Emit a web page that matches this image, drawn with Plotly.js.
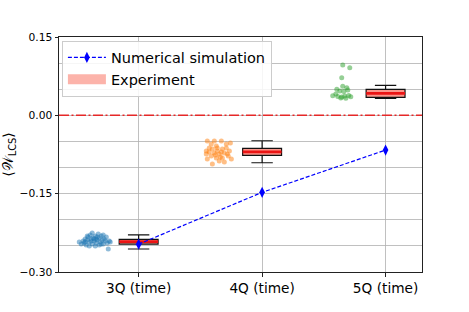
<!DOCTYPE html>
<html>
<head>
<meta charset="utf-8">
<script src="https://cdn.plot.ly/plotly-3.0.1.min.js"></script>
<style>html,body{margin:0;padding:0;background:#fff;}#chart{width:469px;height:312px;}</style>
</head>
<body>
<div id="chart"></div>
<script>
// Categories and tick labels
const categories = [0, 1, 2];
const tickLabels = ['3Q (time)', '4Q (time)', '5Q (time)'];

// Numerical simulation
const simValues = [-0.2467, -0.1475, -0.0665];

// Experiment box statistics
const boxQ1 = [-0.2466, -0.0766, 0.0345];
const boxMedian = [-0.2418, -0.0700, 0.0420];
const boxQ3 = [-0.2375, -0.0632, 0.0498];
const boxLow = [-0.2560, -0.0908, 0.0326];
const boxHigh = [-0.2290, -0.0487, 0.0575];

// Individual experimental runs (jittered)
const x3Q = [-0.481,-0.465,-0.449,-0.441,-0.433,-0.425,-0.416,-0.408,-0.400,-0.392,-0.384,-0.376,-0.368,-0.360,-0.351,-0.343,-0.335,-0.327,-0.319,-0.311,-0.303,-0.295,-0.287,-0.279,-0.270,-0.262,-0.254,-0.246,-0.238,-0.230,-0.376,-0.351,-0.416,-0.319,-0.287,-0.400,-0.335,-0.303,-0.433,-0.360,-0.384,-0.343];
const y3Q = [-0.2427,-0.2465,-0.2408,-0.2446,-0.2370,-0.2485,-0.2389,-0.2331,-0.2427,-0.2293,-0.2370,-0.2465,-0.2351,-0.2408,-0.2312,-0.2446,-0.2389,-0.2274,-0.2351,-0.2427,-0.2312,-0.2389,-0.2465,-0.2370,-0.2408,-0.2331,-0.2446,-0.2561,-0.2408,-0.2427,-0.2255,-0.2504,-0.2312,-0.2485,-0.2293,-0.2504,-0.2331,-0.2465,-0.2427,-0.2370,-0.2408,-0.2370];
const x4Q = [0.556,0.613,0.670,0.743,0.548,0.572,0.597,0.629,0.637,0.653,0.678,0.694,0.710,0.735,0.726,0.678,0.629,0.588,0.556,0.653,0.597,0.694,0.751,0.613,0.670,0.637,0.710,0.548,0.588,0.662,0.718,0.621,0.572];
const y4Q = [-0.0492,-0.0492,-0.0492,-0.0531,-0.0684,-0.0626,-0.0646,-0.0588,-0.0684,-0.0741,-0.0646,-0.0722,-0.0626,-0.0684,-0.0780,-0.0818,-0.0818,-0.0780,-0.0837,-0.0875,-0.0933,-0.0895,-0.0837,-0.0722,-0.0703,-0.0626,-0.0550,-0.0741,-0.0550,-0.0799,-0.0741,-0.0761,-0.0703];
const x5Q = [1.653,1.710,1.645,1.653,1.686,1.605,1.629,1.662,1.694,1.572,1.613,1.645,1.670,1.702,1.718,1.597,1.678,1.637];
const y5Q = [0.0964,0.0912,0.0720,0.0556,0.0529,0.0498,0.0466,0.0456,0.0485,0.0376,0.0360,0.0350,0.0370,0.0380,0.0356,0.0410,0.0326,0.0330];

const zeroLevel = 0;
const boxWidth = 0.315;

const FONT = 'DejaVu Sans, sans-serif';

function runTrace(x, y, color) {
  return {type: 'scatter', mode: 'markers', x: x, y: y, showlegend: false, hoverinfo: 'skip',
    marker: {color: color, size: 5, opacity: 0.5, line: {width: 0}}};
}

// median segments built from the box statistics
const medX = [], medY = [];
categories.forEach((c, i) => { medX.push(c - boxWidth / 2, c + boxWidth / 2, null); medY.push(boxMedian[i], boxMedian[i], null); });

const traces = [
  runTrace(x3Q, y3Q, '#1f77b4'),
  runTrace(x4Q, y4Q, '#ff7f0e'),
  runTrace(x5Q, y5Q, '#2ca02c'),
  {type: 'box', x: categories, q1: boxQ1, median: boxMedian, q3: boxQ3, lowerfence: boxLow, upperfence: boxHigh,
    width: boxWidth, whiskerwidth: 0.55, fillcolor: 'rgb(250,150,140)', line: {color: '#111', width: 1.2},
    showlegend: false, hoverinfo: 'skip', boxpoints: false},
  {type: 'scatter', mode: 'lines', x: medX, y: medY, line: {color: 'rgb(235,20,20)', width: 2.6}, showlegend: false, hoverinfo: 'skip'},
  {type: 'scatter', mode: 'lines+markers', x: categories, y: simValues, name: 'Numerical simulation',
    line: {color: '#0000ff', width: 1.2, dash: '4px,2px'},
    marker: {symbol: 'diamond-tall', size: 8, color: '#0000ff'}},
  {type: 'scatter', mode: 'lines', x: [null], y: [null], name: 'Experiment',
    line: {color: '#fcb3aa', width: 11}}
];

const layout = {
  width: 469, height: 312,
  margin: {l: 59, r: 47, t: 37, b: 40},
  paper_bgcolor: '#fff', plot_bgcolor: '#fff',
  font: {family: FONT, color: '#000'},
  showlegend: true,
  legend: {x: 0.008, y: 0.985, xanchor: 'left', yanchor: 'top', bgcolor: 'rgba(255,255,255,0.85)',
    bordercolor: '#cccccc', borderwidth: 1, font: {size: 14.5, family: FONT}, itemwidth: 38, tracegroupgap: 0},
  xaxis: {range: [-0.645, 2.295], tickmode: 'array', tickvals: categories, ticktext: tickLabels,
    tickfont: {size: 13.7}, ticks: 'outside', ticklen: 3.5, tickcolor: '#222',
    showgrid: true, gridcolor: '#b0b0b0', gridwidth: 0.8, zeroline: false,
    showline: true, linecolor: '#222', linewidth: 1, mirror: true},
  yaxis: {range: [-0.30, 0.15], tickmode: 'linear', tick0: -0.30, dtick: 0.15, tickformat: '.2f',
    tickfont: {size: 10.7}, ticks: 'outside', ticklen: 3.5, tickcolor: '#222',
    showgrid: true, gridcolor: '#b0b0b0', gridwidth: 0.8, zeroline: false,
    minor: {dtick: 0.05, tick0: -0.30, showgrid: true, gridcolor: '#b0b0b0', gridwidth: 0.8, ticks: ''},
    showline: true, linecolor: '#222', linewidth: 1, mirror: true,
    title: {text: '⟨𝒲<sub>LCS</sub>⟩', font: {size: 14}, standoff: 4}},
  shapes: [{type: 'line', xref: 'paper', x0: 0, x1: 1, yref: 'y', y0: zeroLevel, y1: zeroLevel,
    line: {color: 'rgb(230,40,40)', width: 1.5, dash: '10px,2.5px,2px,2.5px'}, layer: 'above'}]
};

Plotly.newPlot('chart', traces, layout, {staticPlot: true, displayModeBar: false});
</script>
</body>
</html>
